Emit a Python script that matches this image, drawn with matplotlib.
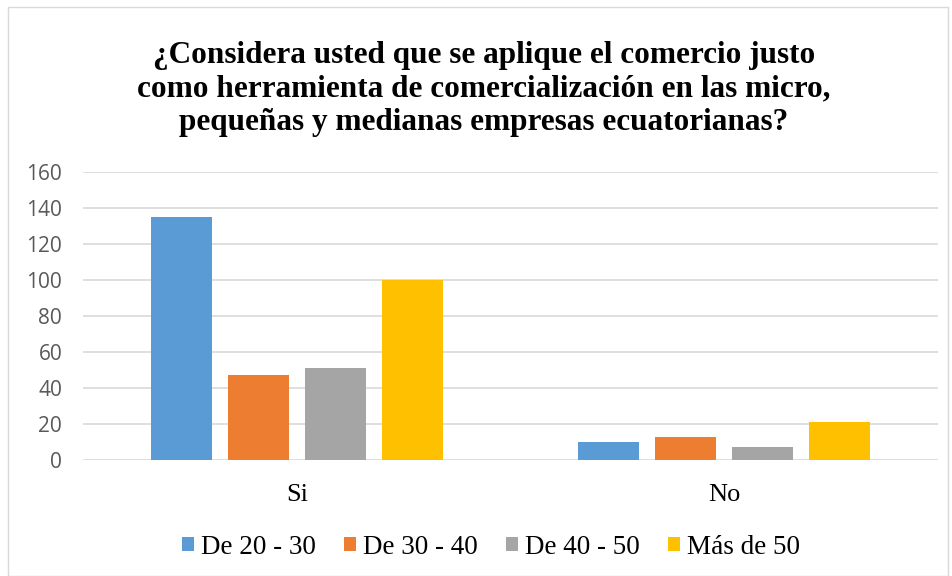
import matplotlib
matplotlib.use("Agg")
import matplotlib.pyplot as plt
import numpy as np
from matplotlib.patches import Rectangle

categories = ["Si", "No"]
series_names = ["De 20 - 30", "De 30 - 40", "De 40 - 50", "Más de 50"]
de_20_30 = [135, 10]
de_30_40 = [47, 13]
de_40_50 = [51, 7]
mas_de_50 = [100, 21]
colors = ["#5b9bd5", "#ed7d31", "#a5a5a5", "#ffc000"]
title = ("¿Considera usted que se aplique el comercio justo\n"
         "como herramienta de comercialización en las micro,\n"
         "pequeñas y medianas empresas ecuatorianas?")

serif = ["Liberation Serif", "DejaVu Serif"]

fig = plt.figure(figsize=(9.52, 5.76), dpi=100)
ax = fig.add_axes([83 / 952, 116 / 576, 855 / 952, 288 / 576])

# outer chart border
fig.patches.append(Rectangle((8 / 952, 0.0), 940 / 952, 569 / 576, transform=fig.transFigure,
                             fill=False, edgecolor="#d9d9d9", linewidth=1))

x = np.arange(len(categories))
slot = 0.18
width = 0.1427
all_series = [de_20_30, de_30_40, de_40_50, mas_de_50]
for i, (vals, name) in enumerate(zip(all_series, series_names)):
    ax.bar(x + (i - 1.5) * slot, vals, width, color=colors[i], label=name, zorder=3)

ax.set_xlim(-0.5, 1.5)
ax.set_ylim(0, 160)
ax.set_yticks(range(0, 161, 20))
ax.yaxis.grid(True, color="#d9d9d9", linewidth=1.2, zorder=0)
ax.set_axisbelow(True)
for s in ax.spines.values():
    s.set_visible(False)
ax.tick_params(axis="both", length=0)
ax.tick_params(axis="y", labelsize=15, labelcolor="#595959", pad=15)
ax.set_xticks(x)
ax.set_xticklabels(categories, fontfamily=serif, fontsize=19, color="#000000")
ax.tick_params(axis="x", pad=17.5)
for lab in ax.get_yticklabels():
    lab.set_fontfamily(["Open Sans", "DejaVu Sans"])

fig.text(484 / 952, 1 - 89 / 576, title, ha="center", va="center", fontfamily=serif, fontsize=22.5,
         fontweight="bold", linespacing=1.22)

leg = fig.legend(loc="center", bbox_to_anchor=(491 / 952, 1 - 547 / 576), ncol=4, frameon=False,
                 prop={"family": serif, "size": 19.5}, handlelength=0.45, handleheight=0.45,
                 handletextpad=0.25, columnspacing=1.05)

fig.savefig("out.png", dpi=100)
